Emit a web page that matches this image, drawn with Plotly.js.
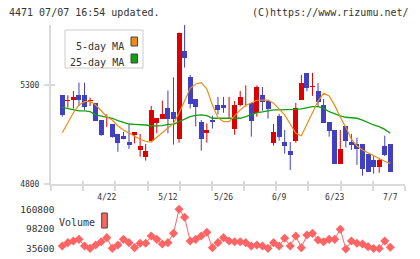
<!DOCTYPE html>
<html><head><meta charset="utf-8">
<script src="https://cdn.plot.ly/plotly-3.0.1.min.js"></script>
<style>html,body{margin:0;padding:0;background:#fff}#chart{width:420px;height:259px}</style>
</head><body><div id="chart"></div>
<script>
const dates = ['4/9','4/10','4/11','4/14','4/15','4/16','4/17','4/18','4/21','4/22',
 '4/23','4/24','4/25','4/28','4/30','5/1','5/2','5/7','5/8','5/9',
 '5/12','5/13','5/14','5/15','5/16','5/19','5/20','5/21','5/22','5/23',
 '5/26','5/27','5/28','5/29','5/30','6/2','6/3','6/4','6/5','6/6',
 '6/9','6/10','6/11','6/12','6/13','6/16','6/17','6/18','6/19','6/20',
 '6/23','6/24','6/25','6/26','6/27','6/30','7/1','7/2','7/3','7/4','7/7'];
const open  = [5248,5248,5219,5226,5250,5250,5219,5209,5123,5126,5103,5053,5043,5012,5048,4973,4938,5019,5110,5130,
 5182,5162,5029,5472,5339,5228,5112,5059,5125,5199,5199,5162,5080,5197,5258,5209,5157,5250,5219,5009,
 5144,5012,4967,5019,5226,5361,5290,5270,5199,5112,5073,4901,5093,5012,5002,5002,4952,4921,4888,4992,5002];
const high  = [5248,5248,5248,5270,5312,5312,5236,5209,5123,5152,5103,5053,5063,5101,5063,5053,5002,5194,5133,5221,
 5272,5339,5565,5603,5351,5228,5123,5106,5145,5240,5240,5240,5219,5270,5298,5209,5298,5290,5224,5103,
 5154,5073,5012,5209,5351,5361,5361,5310,5229,5112,5073,5073,5093,5053,5034,5002,4952,4941,4931,5044,5002];
const low   = [5248,5140,5186,5181,5194,5174,5194,5120,5043,5088,5034,4963,5026,4977,5005,4938,4918,5019,5056,5130,
 5056,4999,5009,5388,5181,5090,4968,5009,5080,5152,5160,5130,5049,5192,5191,5039,5140,5170,5130,4994,
 5019,4953,4871,5009,5226,5268,5245,5191,5110,5039,4901,4901,4984,4972,4896,4842,4861,4852,4857,4941,4862];
const close = [5248,5149,5219,5240,5224,5191,5219,5120,5049,5128,5039,5009,5029,4999,5063,4992,4967,5174,5133,5154,
 5128,5130,5565,5438,5206,5191,5029,5073,5113,5172,5182,5164,5199,5240,5260,5120,5290,5216,5181,5063,
 5039,4994,4948,5184,5310,5285,5292,5216,5110,5069,4901,4977,5019,4997,4979,4877,4861,4888,4921,4948,4862];
const ma5 = [null,5059,5110,5160,5199,5216,5219,5199,5170,5140,5123,5093,5073,5056,5039,5026,5016,5012,5036,5059,
 5086,5106,5157,5216,5283,5305,5312,5280,5199,5135,5115,5115,5145,5174,5197,5211,5223,5224,5224,5208,
 5177,5149,5103,5056,5044,5098,5160,5219,5258,5245,5197,5137,5086,5026,4992,4972,4958,4941,4928,4915,4904];
const ma25 = [null,5187,5181,5174,5169,5169,5165,5149,5144,5140,5132,5120,5112,5103,5101,5101,5098,5093,5093,5095,
 5101,5101,5115,5127,5140,5147,5149,5145,5132,5132,5132,5132,5132,5132,5140,5152,5160,5164,5169,5174,
 5174,5174,5174,5177,5179,5184,5191,5191,5182,5165,5154,5144,5137,5135,5132,5123,5110,5098,5090,5076,5056];
const volume = [null,45100,55600,60800,66100,45100,37700,48200,58700,71400,37700,48200,66100,55600,39800,53500,53500,76600,66100,51400,
 55600,85000,160800,135500,60800,66100,76600,88200,39800,55600,71400,60800,58700,58700,55600,45100,48200,45100,37700,55600,
 45100,69300,45100,76600,39800,79800,85000,64000,58700,66100,66100,97700,35600,60800,53500,51400,43000,37000,37000,60800,40900];
const dateTickLabels = ['4/22','5/12','5/26','6/9','6/23','7/7'];
const priceTicks = [4800, 5300];
const volumeTicks = [35600, 98200, 160800];

const RED = '#dd0000', BLUE = '#4040c0', ORANGE = '#f08c10', GREEN = '#10a010', VOL = '#ff6464', AX = '#dadada';
const idx = dates.map((d, i) => i);
const up = idx.map(i => close[i] >= open[i]);
const minBody = 4;
const bodyBase = idx.map(i => Math.min(open[i], close[i]));
const bodyH = idx.map(i => Math.max(Math.abs(close[i] - open[i]), minBody));
function wicks(flag) {
  const x = [], y = [];
  idx.forEach(i => { if (up[i] === flag) { x.push(i, i, null); y.push(high[i], low[i], null); } });
  return {x, y};
}
const wu = wicks(true), wd = wicks(false);

const L = 51, R = 405, T = 25, B = 249, W = R - L, H = B - T;
const px = x => (x - L) / W, py = y => (B - y) / H;
const xr = [-1.03, 62.64];
const nDiv = 11;
const divTicks = Array.from({length: nDiv + 1}, (_, k) => xr[0] + k * (xr[1] - xr[0]) / nDiv);
const F = 'DejaVu Sans Mono, monospace';

const traces = [
  {type: 'scatter', mode: 'lines', x: wu.x, y: wu.y, line: {color: RED, width: 1}, xaxis: 'x', yaxis: 'y', hoverinfo: 'skip'},
  {type: 'scatter', mode: 'lines', x: wd.x, y: wd.y, line: {color: BLUE, width: 1}, xaxis: 'x', yaxis: 'y', hoverinfo: 'skip'},
  {type: 'bar', x: idx, y: bodyH, base: bodyBase, width: 0.9, marker: {color: idx.map(i => up[i] ? RED : BLUE), line: {width: 0}}, xaxis: 'x', yaxis: 'y'},
  {type: 'scatter', mode: 'lines', x: idx, y: ma25, line: {color: GREEN, width: 1.3}, xaxis: 'x', yaxis: 'y'},
  {type: 'scatter', mode: 'lines', x: idx, y: ma5, line: {color: ORANGE, width: 1.2}, xaxis: 'x', yaxis: 'y'},
  {type: 'scatter', mode: 'lines+markers', x: idx, y: volume, line: {color: VOL, width: 1}, marker: {color: VOL, symbol: 'diamond', size: 7}, cliponaxis: false, xaxis: 'x2', yaxis: 'y2'},
  {type: 'scatter', x: [], y: [], xaxis: 'x3', yaxis: 'y', hoverinfo: 'skip'},
  {type: 'scatter', x: [], y: [], xaxis: 'x4', yaxis: 'y', hoverinfo: 'skip'},
  {type: 'scatter', x: [], y: [], xaxis: 'x', yaxis: 'y3', hoverinfo: 'skip'}
];

const pDom = [py(184), 1];
const vDom = [py(249), py(209.3)];
const layout = {
  width: 420, height: 259, margin: {l: L, r: 420 - R, t: T, b: 259 - B},
  paper_bgcolor: '#fff', plot_bgcolor: 'rgba(0,0,0,0)', showlegend: false, bargap: 0,
  font: {family: F, color: '#333', size: 8},
  xaxis: {domain: [0, 1], anchor: 'y', range: xr, tickmode: 'array', tickvals: divTicks, ticks: 'outside', ticklen: 5, tickcolor: AX, tickwidth: 2,
    showticklabels: false, showline: true, linecolor: AX, linewidth: 2, showgrid: false, zeroline: false, fixedrange: true},
  xaxis3: {overlaying: 'x', anchor: 'y', range: xr, tickmode: 'array', tickvals: divTicks, ticks: 'inside', ticklen: 3, tickcolor: AX, tickwidth: 2,
    showticklabels: false, showline: false, showgrid: false, zeroline: false},
  xaxis4: {overlaying: 'x', anchor: 'y', side: 'bottom', range: xr, tickmode: 'array', tickvals: dateTickLabels.map(d => dates.indexOf(d)), ticktext: dateTickLabels,
    ticks: '', showline: false, showgrid: false, zeroline: false, tickfont: {family: F, size: 8, color: '#333'}, ticklabelstandoff: 7},
  xaxis2: {domain: [0, 1], anchor: 'y2', range: xr, visible: false},
  yaxis: {domain: pDom, anchor: 'x', range: [4800, 5603], tickmode: 'array', tickvals: priceTicks, ticks: 'outside', ticklen: 5, tickcolor: AX, tickwidth: 2,
    showline: true, linecolor: AX, linewidth: 2, showgrid: false, zeroline: false, tickfont: {family: F, size: 8, color: '#333'}, ticklabelstandoff: 3},
  yaxis3: {overlaying: 'y', anchor: 'x', range: [4800, 5603], tickmode: 'array', tickvals: priceTicks, ticks: 'inside', ticklen: 4, tickcolor: AX, tickwidth: 2,
    showticklabels: false, showline: false, showgrid: false, zeroline: false},
  yaxis2: {domain: vDom, anchor: 'free', position: 0.01, range: [35600, 160800], tickmode: 'array', tickvals: volumeTicks, ticktext: volumeTicks.map(String), ticks: '',
    showline: false, showgrid: false, zeroline: false, tickfont: {family: F, size: 9.5, color: '#333'}},
  shapes: [
    {type: 'rect', xref: 'paper', yref: 'paper', x0: px(65), x1: px(143), y0: py(68), y1: py(30), line: {color: '#cccccc', width: 1}, fillcolor: '#fff'},
    {type: 'rect', xref: 'paper', yref: 'paper', x0: px(131), x1: px(137.5), y0: py(46), y1: py(37), line: {color: '#444', width: 1}, fillcolor: ORANGE},
    {type: 'rect', xref: 'paper', yref: 'paper', x0: px(131), x1: px(137.5), y0: py(63), y1: py(54), line: {color: '#444', width: 1}, fillcolor: GREEN},
    {type: 'rect', xref: 'paper', yref: 'paper', x0: px(101.7), x1: px(107.3), y0: py(228), y1: py(213), line: {color: '#444', width: 1}, fillcolor: VOL}
  ],
  annotations: [
    {text: '4471 07/07 16:54 updated.', xref: 'paper', yref: 'paper', x: px(7), y: py(13), xanchor: 'left', yanchor: 'middle', showarrow: false, font: {family: F, size: 10, color: '#333'}},
    {text: '(C)https://www.rizumu.net/', xref: 'paper', yref: 'paper', x: px(411), y: py(13), xanchor: 'right', yanchor: 'middle', showarrow: false, font: {family: F, size: 10, color: '#333'}},
    {text: '5-day MA', xref: 'paper', yref: 'paper', x: px(126), y: py(46), xanchor: 'right', yanchor: 'middle', showarrow: false, font: {family: F, size: 10, color: '#333'}},
    {text: '25-day MA', xref: 'paper', yref: 'paper', x: px(126), y: py(62.5), xanchor: 'right', yanchor: 'middle', showarrow: false, font: {family: F, size: 10, color: '#333'}},
    {text: 'Volume', xref: 'paper', yref: 'paper', x: px(57), y: py(222), xanchor: 'left', yanchor: 'middle', showarrow: false, font: {family: F, size: 10, color: '#333'}}
  ]
};
Plotly.newPlot('chart', traces, layout, {staticPlot: true});
</script></body></html>
